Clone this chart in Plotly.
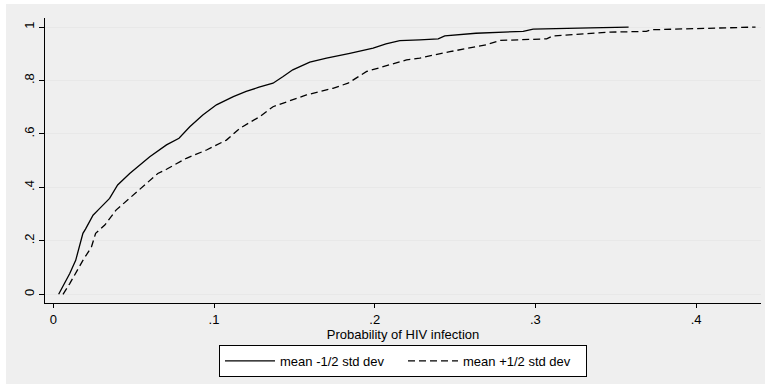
import plotly.graph_objects as go

# ---- data ----
x_lo = [0.0033, 0.0102, 0.0139, 0.0184, 0.020, 0.0247, 0.0278, 0.035, 0.040, 0.0475,
        0.060, 0.0704, 0.0782, 0.0849, 0.093, 0.1015, 0.112, 0.120, 0.128, 0.1367,
        0.143, 0.149, 0.1596, 0.170, 0.1845, 0.199, 0.207, 0.2156, 0.228, 0.2395,
        0.2436, 0.263, 0.2924, 0.2986, 0.334, 0.358]
y_lo = [0, 0.078, 0.127, 0.228, 0.244, 0.296, 0.315, 0.359, 0.409, 0.452,
        0.515, 0.559, 0.584, 0.627, 0.671, 0.709, 0.740, 0.759, 0.775, 0.790,
        0.815, 0.840, 0.869, 0.884, 0.902, 0.921, 0.937, 0.949, 0.952, 0.956,
        0.967, 0.977, 0.984, 0.992, 0.997, 1.0]

x_hi = [0.006, 0.0102, 0.0184, 0.0237, 0.0263, 0.032, 0.039, 0.0485, 0.058, 0.065,
        0.0704, 0.0828, 0.0953, 0.1077, 0.116, 0.1285, 0.1367, 0.1575, 0.174, 0.1834,
        0.195, 0.205, 0.2198, 0.228, 0.2468, 0.2696, 0.278, 0.307, 0.311, 0.3464,
        0.369, 0.372, 0.4087, 0.4325, 0.437]
y_hi = [0, 0.04, 0.127, 0.177, 0.228, 0.259, 0.315, 0.365, 0.415, 0.452,
        0.468, 0.509, 0.54, 0.577, 0.621, 0.665, 0.702, 0.746, 0.771, 0.790,
        0.834, 0.852, 0.877, 0.884, 0.908, 0.934, 0.950, 0.956, 0.967, 0.981,
        0.984, 0.99, 0.997, 1.0, 1.0]

series_names = ["mean -1/2 std dev", "mean +1/2 std dev"]
x_tickvals = [0, 0.1, 0.2, 0.3, 0.4]
x_ticktext = ["0", ".1", ".2", ".3", ".4"]
y_tickvals = [0, 0.2, 0.4, 0.6, 0.8, 1.0]
y_ticktext = ["0", ".2", ".4", ".6", ".8", "1"]
x_title = "Probability of HIV infection"

# ---- layout geometry ----
W, H = 766, 386
ML, MR, MT, MB = 45, 5, 18, 83
pw, ph = W - ML - MR, H - MT - MB

def px_to_paper_x(px):
    return (px - ML) / pw

def px_to_paper_y(py):
    return (H - MB - py) / ph

FONT = "Liberation Sans, Arial, sans-serif"

fig = go.Figure()
fig.add_trace(go.Scatter(x=x_lo, y=y_lo, mode="lines", name=series_names[0],
                         line=dict(color="black", width=1.3)))
fig.add_trace(go.Scatter(x=x_hi, y=y_hi, mode="lines", name=series_names[1],
                         line=dict(color="black", width=1.3, dash="7px,4px")))

fig.update_layout(
    width=W, height=H,
    margin=dict(l=ML, r=MR, t=MT, b=MB, pad=0),
    paper_bgcolor="white",
    plot_bgcolor="white",
    font=dict(family=FONT, size=13, color="black"),
    showlegend=True,
    legend=dict(
        orientation="h",
        x=0.5, xanchor="center",
        y=px_to_paper_y(345), yanchor="top",
        bgcolor="white",
        bordercolor="black",
        borderwidth=1,
        font=dict(family=FONT, size=13, color="black"),
        itemwidth=50,
        entrywidth=118,
        tracegroupgap=0,
    ),
    shapes=[dict(
        type="rect", xref="paper", yref="paper", layer="below",
        x0=px_to_paper_x(6), x1=px_to_paper_x(765),
        y0=px_to_paper_y(384), y1=px_to_paper_y(4),
        fillcolor="#efefef", line=dict(width=0),
    )],
)

fig.update_xaxes(
    range=[-0.0052, 0.4404],
    tickvals=x_tickvals, ticktext=x_ticktext,
    showgrid=False, zeroline=False,
    showline=True, linecolor="black", linewidth=1,
    ticks="outside", ticklen=4, tickcolor="black", tickwidth=1,
    tickfont=dict(family=FONT, size=13, color="black"),
    title=dict(text=x_title, font=dict(family=FONT, size=13, color="black"), standoff=1),
)
fig.update_yaxes(
    range=[-0.0326, 1.034],
    tickvals=y_tickvals, ticktext=y_ticktext,
    tickangle=-90,
    showgrid=True, gridcolor="#e8e8e8", gridwidth=1,
    zeroline=False,
    showline=True, linecolor="black", linewidth=1,
    ticks="outside", ticklen=5, tickcolor="black", tickwidth=1,
    tickfont=dict(family=FONT, size=13, color="black"),
)

fig.write_html("out.html")
